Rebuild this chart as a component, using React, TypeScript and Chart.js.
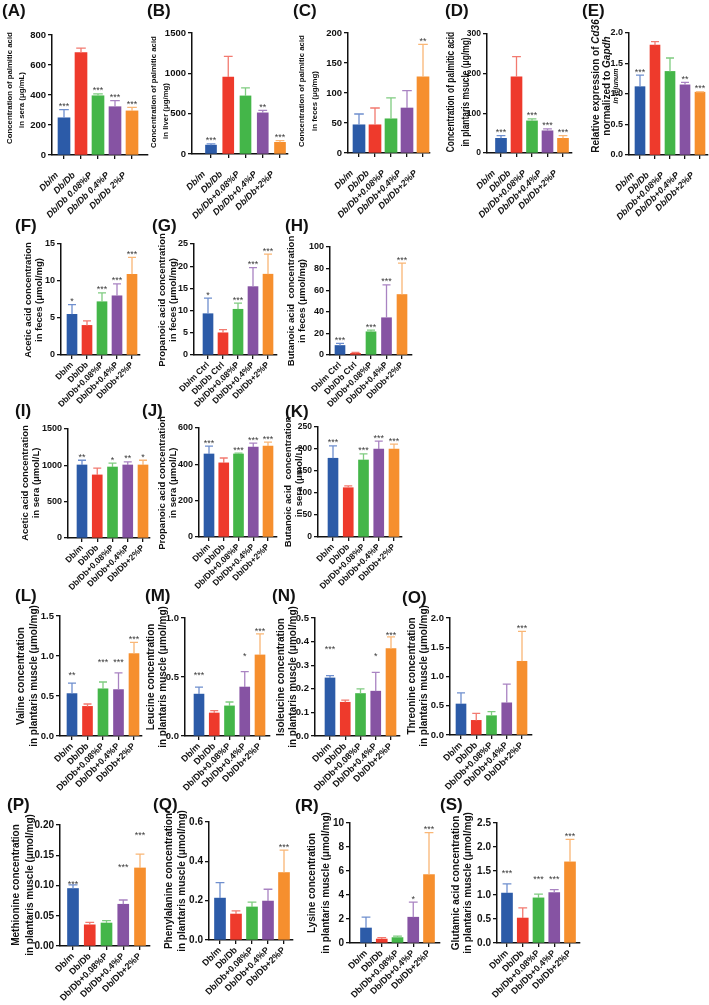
import React, { useEffect, useRef } from "react";
import { Chart, registerables } from "chart.js";
Chart.register(...registerables);

const FONT = "'Liberation Sans', Arial, Helvetica, sans-serif";
const COLORS = ["#2c5ba8", "#ee3a2c", "#44b649", "#8653a3", "#f68f2e"];
const ERR_COLORS = ["#6f8fce", "#f27a70", "#7fcc80", "#a983c2", "#f9b676"];

// category labels
const labelsA = ["Db/m", "Db/Db", "Db/Db 0.08%P", "Db/Db 0.4%P", "Db/Db 2%P"];
const labelsStd = ["Db/m", "Db/Db", "Db/Db+0.08%P", "Db/Db+0.4%P", "Db/Db+2%P"];
const labelsCtrl = ["Db/m Ctrl", "Db/Db Ctrl", "Db/Db+0.08%P", "Db/Db+0.4%P", "Db/Db+2%P"];

// (A) palmitic acid in sera
const meanA = [248, 682, 395, 322, 294];
const errA = [302, 713, 407, 362, 318];
const starsA = ["***", "", "***", "***", "***"];
// (B) liver
const meanB = [110, 955, 720, 510, 145];
const errB = [125, 1210, 820, 540, 165];
const starsB = ["***", "", "", "**", "***"];
// (C) feces
const meanC = [47, 47, 57, 75, 127];
const errC = [65, 75, 92, 104, 181];
const starsC = ["", "", "", "", "**"];
// (D) plantaris muscle
const meanD = [37, 192, 81, 56, 37];
const errD = [44, 243, 86, 61, 44];
const starsD = ["***", "", "***", "***", "***"];
// (E) Cd36 expression
const meanE = [1.12, 1.8, 1.37, 1.15, 1.03];
const errE = [1.31, 1.86, 1.59, 1.19, 1.035];
const starsE = ["***", "", "", "**", "***"];
// (F) acetic acid feces
const meanF = [5.5, 4.0, 7.2, 8.0, 10.9];
const errF = [6.8, 4.6, 8.4, 9.6, 13.2];
const starsF = ["*", "", "***", "***", "***"];
// (G) propanoic acid feces
const meanG = [9.3, 5.0, 10.3, 15.4, 18.2];
const errG = [12.8, 5.7, 11.7, 19.7, 22.7];
const starsG = ["*", "", "***", "***", "***"];
// (H) butanoic acid feces
const meanH = [8.8, 1.5, 21.5, 34.5, 56];
const errH = [10.7, 2.5, 23, 65, 85];
const starsH = ["***", "", "***", "***", "***"];
// (I) acetic acid sera
const meanI = [1005, 868, 977, 1005, 1005];
const errI = [1070, 962, 1030, 1048, 1070];
const starsI = ["**", "", "*", "**", "*"];
// (J) propanoic acid sera
const meanJ = [457, 408, 457, 495, 501];
const errJ = [500, 435, 462, 517, 522];
const starsJ = ["***", "", "***", "***", "***"];
// (K) butanoic acid sera
const meanK = [179, 112, 175, 200, 200];
const errK = [207, 116, 189, 218, 211];
const starsK = ["***", "", "***", "***", "***"];
// (L) valine
const meanL = [0.53, 0.37, 0.59, 0.58, 1.03];
const errL = [0.66, 0.4, 0.675, 0.79, 1.17];
const starsL = ["**", "", "***", "***", "***"];
const starPosL = [0.8, null, 0.96, 0.96, 1.25];
// (M) leucine
const meanM = [0.355, 0.195, 0.255, 0.415, 0.687];
const errM = [0.415, 0.215, 0.288, 0.545, 0.865];
const starsM = ["***", "", "", "*", "***"];
const starPosM = [0.54, null, null, 0.7, 0.91];
// (N) isoleucine
const meanN = [0.246, 0.143, 0.18, 0.19, 0.37];
const errN = [0.256, 0.152, 0.2, 0.27, 0.42];
const starsN = ["***", "", "", "*", "***"];
const starPosN = [0.38, null, null, 0.35, 0.44];
// (O) threonine
const meanO = [0.53, 0.25, 0.33, 0.55, 1.26];
const errO = [0.72, 0.37, 0.4, 0.87, 1.77];
const starsO = ["", "", "", "", "***"];
// (P) methionine
const meanP = [0.095, 0.035, 0.038, 0.069, 0.129];
const errP = [0.101, 0.039, 0.042, 0.076, 0.152];
const starsP = ["***", "", "", "***", "***"];
const starPosP = [0.107, null, null, 0.134, 0.187];
// (Q) phenylalanine
const meanQ = [0.213, 0.132, 0.168, 0.198, 0.343];
const errQ = [0.292, 0.148, 0.193, 0.258, 0.457];
const starsQ = ["", "", "", "", "***"];
// (R) lysine
const meanR = [1.25, 0.33, 0.45, 2.15, 5.7];
const errR = [2.15, 0.45, 0.58, 3.4, 9.2];
const starsR = ["", "", "", "*", "***"];
// (S) glutamic acid
const meanS = [1.04, 0.52, 0.94, 1.05, 1.69];
const errS = [1.23, 0.73, 1.02, 1.11, 2.16];
const starsS = ["***", "", "***", "***", "***"];
const starPosS = [1.52, null, 1.38, 1.38, null];

type Seg = { t: string; it?: boolean };
type Line = { segs: Seg[]; size?: number };

interface PanelCfg {
  letter: string; lx: number; ly: number;
  labels: string[]; mean: number[]; err: number[]; stars: string[]; starPos?: (number | null)[];
  ymax: number; ystep: number; dec: number;
  axisX: number; axisEnd: number; c0: number; c4: number; top: number; bottom: number; barW: number;
  title: Line[]; titleX: number[]; titleY: number[]; titleSize: number; titleStretch?: number;
  tickSize: number; xSize: number; xItalic?: boolean; xPad?: number; xShift?: number;
}

const L = (t: string, size?: number, it?: boolean): Line => ({ segs: [{ t, it }], size });
const muscle = "in plantaris muscle (\u03bcmol/mg)";

const panels: PanelCfg[] = [
  { letter: "(A)", lx: 2, ly: 4, labels: labelsA, mean: meanA, err: errA, stars: starsA, ymax: 800, ystep: 200, dec: 0,
    axisX: 52, axisEnd: 148, c0: 64, c4: 132, top: 35, bottom: 155, barW: 12,
    title: [L("Concentration of palmitic acid"), L("in sera (\u03bcg/mL)")], titleX: [10, 22], titleY: [88, 100], titleSize: 7.8,
    tickSize: 9.5, xSize: 9, xItalic: true, xPad: 11, xShift: -7 },
  { letter: "(B)", lx: 147, ly: 4, labels: labelsStd, mean: meanB, err: errB, stars: starsB, ymax: 1500, ystep: 500, dec: 0,
    axisX: 192, axisEnd: 288, c0: 211, c4: 280, top: 33, bottom: 154, barW: 11,
    title: [L("Concentration of palmitic acid"), L("in liver (\u03bcg/mg)")], titleX: [154, 166], titleY: [92, 111], titleSize: 7.8,
    tickSize: 9.5, xSize: 9, xItalic: true, xPad: 11, xShift: -7 },
  { letter: "(C)", lx: 293, ly: 4, labels: labelsStd, mean: meanC, err: errC, stars: starsC, ymax: 200, ystep: 50, dec: 0,
    axisX: 348, axisEnd: 430, c0: 359, c4: 423, top: 33, bottom: 153, barW: 12,
    title: [L("Concentration of palmitic acid"), L("in feces (\u03bcg/mg)")], titleX: [302, 315], titleY: [91, 101], titleSize: 7.8,
    tickSize: 9.5, xSize: 9, xItalic: true, xPad: 11, xShift: -7 },
  { letter: "(D)", lx: 445, ly: 4, labels: labelsStd, mean: meanD, err: errD, stars: starsD, ymax: 300, ystep: 100, dec: 0,
    axisX: 487, axisEnd: 572, c0: 501, c4: 563, top: 34, bottom: 153, barW: 11,
    title: [L("Concentration of palmitic acid"), L("in plantaris msucle (\u03bcg/mg)")], titleX: [451, 466], titleY: [92, 92], titleSize: 10.5, titleStretch: 0.8,
    tickSize: 8.5, xSize: 9, xItalic: true, xPad: 11, xShift: -7 },
  { letter: "(E)", lx: 582, ly: 4, labels: labelsStd, mean: meanE, err: errE, stars: starsE, ymax: 2, ystep: 0.5, dec: 1,
    axisX: 629, axisEnd: 708, c0: 640, c4: 700, top: 33, bottom: 155, barW: 10,
    title: [
      { segs: [{ t: "Relative expression of " }, { t: "Cd36", it: true }] },
      { segs: [{ t: "normalized to " }, { t: "Gapdh", it: true }] },
      { segs: [{ t: "in jejunum", it: true }], size: 7 },
    ], titleX: [596, 607, 616], titleY: [86, 86, 86], titleSize: 10,
    tickSize: 9, xSize: 9, xItalic: true, xPad: 11, xShift: -7 },
  { letter: "(F)", lx: 15, ly: 219, labels: labelsStd, mean: meanF, err: errF, stars: starsF, ymax: 15, ystep: 5, dec: 0,
    axisX: 61, axisEnd: 140, c0: 72, c4: 132, top: 244, bottom: 355, barW: 10,
    title: [L("Acetic acid concentration"), L("in feces (\u03bcmol/mg)")], titleX: [28, 39], titleY: [300, 300], titleSize: 9.5,
    tickSize: 9, xSize: 8.5 },
  { letter: "(G)", lx: 152, ly: 219, labels: labelsCtrl, mean: meanG, err: errG, stars: starsG, ymax: 25, ystep: 5, dec: 0,
    axisX: 194, axisEnd: 277, c0: 208, c4: 268, top: 244, bottom: 355, barW: 10,
    title: [L("Propanoic acid concentration"), L("in feces (\u03bcmol/mg)")], titleX: [162, 173], titleY: [300, 300], titleSize: 9.5,
    tickSize: 9, xSize: 8.5 },
  { letter: "(H)", lx: 285, ly: 219, labels: labelsCtrl, mean: meanH, err: errH, stars: starsH, ymax: 100, ystep: 20, dec: 0,
    axisX: 330, axisEnd: 412, c0: 340, c4: 402, top: 247, bottom: 355, barW: 10,
    title: [L("Butanoic acid  concentration"), L("in feces (\u03bcmol/mg)")], titleX: [291, 302], titleY: [301, 301], titleSize: 9.5,
    tickSize: 9, xSize: 8.5 },
  { letter: "(I)", lx: 15, ly: 404, labels: labelsStd, mean: meanI, err: errI, stars: starsI, ymax: 1500, ystep: 500, dec: 0,
    axisX: 68, axisEnd: 150, c0: 82, c4: 143, top: 429, bottom: 538, barW: 10,
    title: [L("Acetic acid concentration"), L("in sera (\u03bcmol/L)")], titleX: [25, 36], titleY: [483, 483], titleSize: 9.5,
    tickSize: 9, xSize: 8.5 },
  { letter: "(J)", lx: 142, ly: 404, labels: labelsStd, mean: meanJ, err: errJ, stars: starsJ, ymax: 600, ystep: 200, dec: 0,
    axisX: 199, axisEnd: 277, c0: 209, c4: 268, top: 428, bottom: 537, barW: 10,
    title: [L("Propanoic acid concentration"), L("in sera (\u03bcmol/L)")], titleX: [162, 173], titleY: [483, 483], titleSize: 9.5,
    tickSize: 9, xSize: 8.5 },
  { letter: "(K)", lx: 285, ly: 405, labels: labelsStd, mean: meanK, err: errK, stars: starsK, ymax: 250, ystep: 50, dec: 0,
    axisX: 318, axisEnd: 402, c0: 333, c4: 394, top: 427, bottom: 537, barW: 10,
    title: [L("Butanoic acid  concentration"), L("in sera (\u03bcmol/L)")], titleX: [288, 299], titleY: [482, 482], titleSize: 9.5,
    tickSize: 8.5, xSize: 8.5 },
  { letter: "(L)", lx: 15, ly: 589, labels: labelsStd, mean: meanL, err: errL, stars: starsL, starPos: starPosL, ymax: 1.5, ystep: 0.5, dec: 1,
    axisX: 60, axisEnd: 142, c0: 72, c4: 134, top: 616, bottom: 736, barW: 10,
    title: [L("Valine concentration"), L(muscle)], titleX: [21, 34], titleY: [676, 676], titleSize: 10,
    tickSize: 9.5, xSize: 9 },
  { letter: "(M)", lx: 145, ly: 589, labels: labelsStd, mean: meanM, err: errM, stars: starsM, starPos: starPosM, ymax: 1, ystep: 0.5, dec: 1,
    axisX: 185, axisEnd: 270, c0: 199, c4: 260, top: 618, bottom: 736, barW: 10,
    title: [L("Leucine concentration"), L(muscle)], titleX: [151, 163], titleY: [677, 677], titleSize: 10,
    tickSize: 9.5, xSize: 9 },
  { letter: "(N)", lx: 272, ly: 589, labels: labelsStd, mean: meanN, err: errN, stars: starsN, starPos: starPosN, ymax: 0.5, ystep: 0.1, dec: 1,
    axisX: 315, axisEnd: 400, c0: 330, c4: 391, top: 618, bottom: 736, barW: 10,
    title: [L("Isoleucine concentration"), L(muscle)], titleX: [281, 293], titleY: [677, 677], titleSize: 10,
    tickSize: 9.5, xSize: 9 },
  { letter: "(O)", lx: 402, ly: 591, labels: labelsStd, mean: meanO, err: errO, stars: starsO, ymax: 2, ystep: 0.5, dec: 1,
    axisX: 450, axisEnd: 532, c0: 461, c4: 522, top: 618, bottom: 735, barW: 10,
    title: [L("Threonine concentration"), L(muscle)], titleX: [412, 424], titleY: [676, 676], titleSize: 10,
    tickSize: 9.5, xSize: 9 },
  { letter: "(P)", lx: 7, ly: 798, labels: labelsStd, mean: meanP, err: errP, stars: starsP, starPos: starPosP, ymax: 0.2, ystep: 0.05, dec: 2,
    axisX: 60, axisEnd: 150, c0: 73, c4: 140, top: 825, bottom: 946, barW: 11,
    title: [L("Methionine concentration"), L(muscle)], titleX: [16, 30], titleY: [885, 885], titleSize: 10,
    tickSize: 10, xSize: 9 },
  { letter: "(Q)", lx: 153, ly: 798, labels: labelsStd, mean: meanQ, err: errQ, stars: starsQ, ymax: 0.6, ystep: 0.2, dec: 1,
    axisX: 209, axisEnd: 293, c0: 220, c4: 284, top: 822, bottom: 940, barW: 11,
    title: [L("Phenylalanine concentration"), L(muscle)], titleX: [169, 182], titleY: [881, 881], titleSize: 10,
    tickSize: 10, xSize: 9 },
  { letter: "(R)", lx: 295, ly: 799, labels: labelsStd, mean: meanR, err: errR, stars: starsR, ymax: 10, ystep: 2, dec: 0,
    axisX: 350, axisEnd: 440, c0: 366, c4: 429, top: 823, bottom: 943, barW: 11,
    title: [L("Lysine concentration"), L(muscle)], titleX: [312, 326], titleY: [883, 883], titleSize: 10,
    tickSize: 10, xSize: 9 },
  { letter: "(S)", lx: 440, ly: 798, labels: labelsStd, mean: meanS, err: errS, stars: starsS, starPos: starPosS, ymax: 2.5, ystep: 0.5, dec: 1,
    axisX: 497, axisEnd: 580, c0: 507, c4: 570, top: 823, bottom: 943, barW: 11,
    title: [L("Glutamic acid concentration"), L(muscle)], titleX: [456, 468], titleY: [883, 883], titleSize: 10,
    tickSize: 10, xSize: 9 },
];

function computeBox(cfg: PanelCfg) {
  const left = Math.max(0, Math.min(cfg.titleX[0] - 10, cfg.axisX - 75));
  const right = Math.min(709, cfg.axisEnd + 10);
  const top = Math.max(0, Math.min(cfg.top - 16, cfg.titleY[0] - 82));
  const bottom = cfg.bottom + 85;
  return { left, right, top, bottom, w: right - left, h: bottom - top };
}

function PanelChart({ cfg }: { cfg: PanelCfg }) {
  const ref = useRef<HTMLCanvasElement>(null);
  const box = computeBox(cfg);
  useEffect(() => {
    const canvas = ref.current;
    if (!canvas) return;
    const step = (cfg.c4 - cfg.c0) / 4;
    const xmin = -(cfg.c0 - cfg.axisX) / step;
    const xmax = 4 + (cfg.axisEnd - cfg.c4) / step;

    const errPlugin = {
      id: "errbars",
      afterDatasetsDraw(chart: any) {
        const ctx = chart.ctx;
        const meta = chart.getDatasetMeta(0);
        const ys = chart.scales.y;
        meta.data.forEach((el: any, i: number) => {
          const x = el.x;
          const yb = el.y;
          const yt = ys.getPixelForValue(cfg.err[i]);
          const cw = cfg.barW * 0.4;
          ctx.save();
          ctx.strokeStyle = ERR_COLORS[i];
          ctx.lineWidth = 1.3;
          ctx.beginPath();
          ctx.moveTo(x, yb);
          ctx.lineTo(x, yt);
          ctx.moveTo(x - cw, yt);
          ctx.lineTo(x + cw, yt);
          ctx.stroke();
          const s = cfg.stars[i];
          if (s) {
            ctx.fillStyle = "#3a3a3a";
            ctx.font = `9px ${FONT}`;
            ctx.textAlign = "center";
            ctx.textBaseline = "alphabetic";
            const sp = cfg.starPos ? cfg.starPos[i] : null;
            const yy = sp != null ? ys.getPixelForValue(sp) + 5.5 : yt - 0.5;
            ctx.fillText(s, x, yy);
          }
          ctx.restore();
        });
      },
    };

    const titlePlugin = {
      id: "ytitle",
      afterDraw(chart: any) {
        const ctx = chart.ctx;
        cfg.title.forEach((line, li) => {
          const size = line.size ?? cfg.titleSize;
          ctx.save();
          ctx.translate(cfg.titleX[li] - box.left, cfg.titleY[li] - box.top);
          ctx.rotate(-Math.PI / 2);
          if (cfg.titleStretch) ctx.scale(cfg.titleStretch, 1);
          ctx.textBaseline = "middle";
          ctx.textAlign = "left";
          ctx.fillStyle = "#111";
          let total = 0;
          const widths = line.segs.map((sg) => {
            ctx.font = `${sg.it ? "italic " : ""}bold ${size}px ${FONT}`;
            const w = ctx.measureText(sg.t).width;
            total += w;
            return w;
          });
          let x = -total / 2;
          line.segs.forEach((sg, si) => {
            ctx.font = `${sg.it ? "italic " : ""}bold ${size}px ${FONT}`;
            ctx.fillText(sg.t, x, 0);
            x += widths[si];
          });
          ctx.restore();
        });
      },
    };

    const chart = new Chart(canvas, {
      type: "bar",
      data: {
        datasets: [
          {
            data: cfg.mean.map((v, i) => ({ x: i, y: v })),
            backgroundColor: COLORS,
            borderWidth: 0,
            barThickness: cfg.barW,
          } as any,
        ],
      },
      options: {
        responsive: false,
        animation: false,
        events: [],
        layout: {
          padding: { left: 0, top: cfg.top - box.top, right: box.right - cfg.axisEnd, bottom: 0 },
        },
        plugins: { legend: { display: false }, tooltip: { enabled: false }, title: { display: false } },
        scales: {
          x: {
            type: "linear",
            offset: false,
            min: xmin,
            max: xmax,
            afterBuildTicks: (s: any) => {
              s.ticks = [0, 1, 2, 3, 4].map((v) => ({ value: v }));
            },
            afterFit: (s: any) => {
              s.height = box.bottom - cfg.bottom;
              s.paddingLeft = 0;
              s.paddingRight = 0;
            },
            ticks: {
              autoSkip: false,
              minRotation: 45,
              maxRotation: 45,
              padding: cfg.xPad ?? 1,
              labelOffset: cfg.xShift ?? 0,
              color: "#111",
              font: { family: FONT, size: cfg.xSize, weight: "bold", style: cfg.xItalic ? "italic" : "normal" },
              callback: (v: any) => cfg.labels[Math.round(Number(v))] ?? "",
            },
            grid: { offset: false, drawOnChartArea: false, drawTicks: true, tickLength: 4, color: "#111", lineWidth: 1.3 },
            border: { display: true, color: "#111", width: 1.5 },
          } as any,
          y: {
            min: 0,
            max: cfg.ymax,
            afterFit: (s: any) => {
              s.width = cfg.axisX - box.left;
            },
            ticks: {
              stepSize: cfg.ystep,
              padding: 2,
              color: "#111",
              font: { family: FONT, size: cfg.tickSize, weight: "bold" },
              callback: (v: any) => Number(v).toFixed(cfg.dec),
            },
            grid: { drawOnChartArea: false, drawTicks: true, tickLength: 4, color: "#111", lineWidth: 1.3 },
            border: { display: true, color: "#111", width: 1.5 },
          } as any,
        },
      },
      plugins: [errPlugin, titlePlugin],
    });
    return () => chart.destroy();
  }, []);
  return (
    <canvas
      ref={ref}
      width={box.w}
      height={box.h}
      style={{ position: "absolute", left: box.left, top: box.top, width: box.w, height: box.h }}
    />
  );
}

export default function App() {
  return (
    <div style={{ position: "absolute", left: 0, top: 0, width: 709, height: 1005, overflow: "hidden", background: "#fff" }}>
      {panels.map((p) => (
        <PanelChart key={p.letter} cfg={p} />
      ))}
      {panels.map((p) => (
        <div
          key={"l" + p.letter}
          style={{
            position: "absolute",
            left: p.lx,
            top: p.ly - 2,
            font: `bold 17px ${FONT}`,
            lineHeight: "17px",
            color: "#111",
            whiteSpace: "nowrap",
          }}
        >
          {p.letter}
        </div>
      ))}
    </div>
  );
}
